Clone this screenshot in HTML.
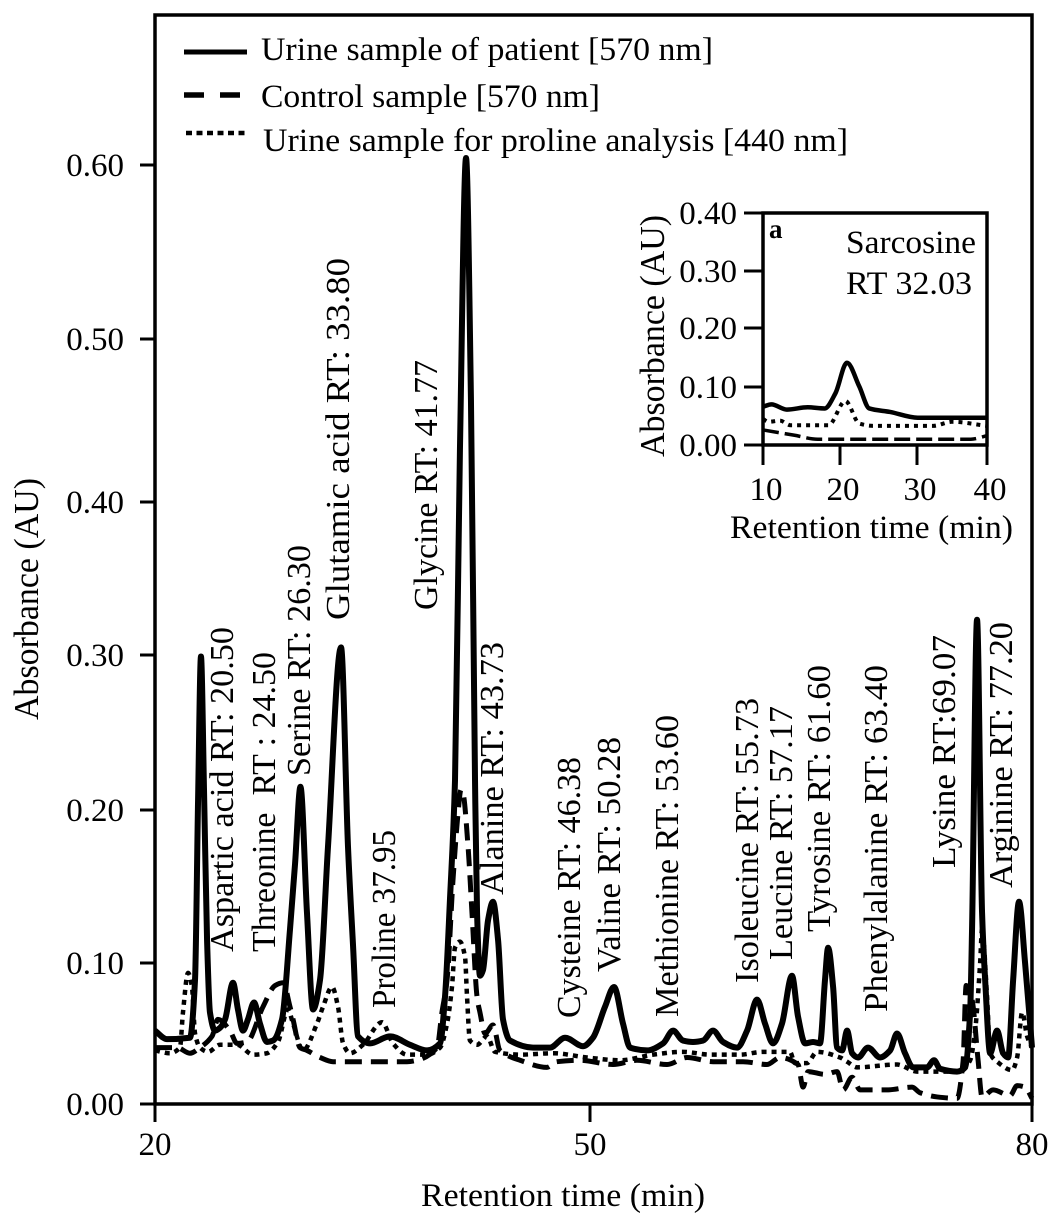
<!DOCTYPE html>
<html lang="en">
<head>
<meta charset="utf-8">
<title>Amino acid chromatogram</title>
<style>
html,body{margin:0;padding:0;background:#fff}
svg{display:block}
text{font-family:"Liberation Serif","Times New Roman",serif;fill:#000;font-size:33px}
.big{font-size:33px}
.peak text{font-size:34px}
.ytitle{font-size:35px}
</style>
</head>
<body>
<svg id="chart" xmlns="http://www.w3.org/2000/svg" width="1063" height="1229" viewBox="0 0 1063 1229">
  <rect x="0" y="0" width="1063" height="1229" fill="#fff"/>
  <g id="main-axes"></g>
  <g id="main-series"></g>
  <g id="inset"></g>
  <text class="ytitle" transform="translate(38,720) rotate(-90)" textLength="242" lengthAdjust="spacingAndGlyphs">Absorbance (AU)</text>
  <text x="421" y="1206" textLength="284" lengthAdjust="spacingAndGlyphs">Retention time (min)</text>

  <g>
    <line x1="184" y1="52" x2="247" y2="52" stroke="#000" stroke-width="5"/>
    <text x="261" y="60" textLength="452" lengthAdjust="spacingAndGlyphs">Urine sample of patient [570 nm]</text>
    <line x1="184" y1="95" x2="241" y2="95" stroke="#000" stroke-width="5.5" stroke-dasharray="20 16"/>
    <text x="261" y="107" textLength="339" lengthAdjust="spacingAndGlyphs">Control sample [570 nm]</text>
    <line x1="186" y1="133" x2="249" y2="133" stroke="#000" stroke-width="4.5" stroke-dasharray="6 4.5"/>
    <text x="263" y="151" textLength="585" lengthAdjust="spacingAndGlyphs">Urine sample for proline analysis [440 nm]</text>
  </g>

  <g class="peak">
    <text transform="translate(233,952) rotate(-90)" textLength="325" lengthAdjust="spacingAndGlyphs">Aspartic acid RT: 20.50</text>
    <text transform="translate(275,952) rotate(-90)" textLength="300" lengthAdjust="spacingAndGlyphs" xml:space="preserve">Threonine  RT : 24.50</text>
    <text transform="translate(310,776) rotate(-90)" textLength="231" lengthAdjust="spacingAndGlyphs">Serine RT: 26.30</text>
    <text transform="translate(349,620) rotate(-90)" textLength="362" lengthAdjust="spacingAndGlyphs">Glutamic acid RT: 33.80</text>
    <text transform="translate(395,1008) rotate(-90)" textLength="178" lengthAdjust="spacingAndGlyphs">Proline 37.95</text>
    <text transform="translate(437,610) rotate(-90)" textLength="250" lengthAdjust="spacingAndGlyphs">Glycine RT: 41.77</text>
    <text transform="translate(503,895) rotate(-90)" textLength="253" lengthAdjust="spacingAndGlyphs">Alanine RT: 43.73</text>
    <text transform="translate(580,1018) rotate(-90)" textLength="261" lengthAdjust="spacingAndGlyphs">Cysteine RT: 46.38</text>
    <text transform="translate(620,972) rotate(-90)" textLength="235" lengthAdjust="spacingAndGlyphs">Valine RT: 50.28</text>
    <text transform="translate(678,1017) rotate(-90)" textLength="302" lengthAdjust="spacingAndGlyphs">Methionine RT: 53.60</text>
    <text transform="translate(758,983) rotate(-90)" textLength="285" lengthAdjust="spacingAndGlyphs">Isoleucine RT: 55.73</text>
    <text transform="translate(792,960) rotate(-90)" textLength="254" lengthAdjust="spacingAndGlyphs">Leucine RT: 57.17</text>
    <text transform="translate(830,932) rotate(-90)" textLength="267" lengthAdjust="spacingAndGlyphs">Tyrosine RT: 61.60</text>
    <text transform="translate(887,1012) rotate(-90)" textLength="347" lengthAdjust="spacingAndGlyphs">Phenylalanine RT: 63.40</text>
    <text transform="translate(955,868) rotate(-90)" textLength="233" lengthAdjust="spacingAndGlyphs">Lysine RT:69.07</text>
    <text transform="translate(1012,888) rotate(-90)" textLength="266" lengthAdjust="spacingAndGlyphs">Arginine RT: 77.20</text>
  </g>

  <g>
    <text x="769" y="238" style="font-weight:bold;font-size:27px">a</text>
    <text x="846" y="253" textLength="130" lengthAdjust="spacingAndGlyphs">Sarcosine</text>
    <text x="846" y="294" textLength="126" lengthAdjust="spacingAndGlyphs">RT 32.03</text>
    <text class="ytitle" transform="translate(664,457) rotate(-90)" textLength="242" lengthAdjust="spacingAndGlyphs">Absorbance (AU)</text>
    <text x="730" y="538" textLength="283" lengthAdjust="spacingAndGlyphs">Retention time (min)</text>
  </g>
</svg>

<script>
// ---------- main chart data ----------
var xTicks = [20, 50, 80];
var xTickLabels = ["20", "50", "80"];
var yTicks = [0, 0.1, 0.2, 0.3, 0.4, 0.5, 0.6];
var yTickLabels = ["0.00", "0.10", "0.20", "0.30", "0.40", "0.50", "0.60"];

var patientTimes = [20,20.83,22.41,22.76,22.97,23.17,23.38,23.59,23.79,24.14,24.48,24.83,25.38,25.72,26.07,26.41,26.83,27.24,27.72,28.14,28.76,29.31,29.66,30.03,30.48,30.9,31.38,31.93,32.83,33.31,33.66,34,34.83,36.21,37.59,38.76,39.66,40,40.34,40.69,41.03,41.45,41.79,42.07,42.21,42.41,42.62,42.97,43.31,43.66,44,44.48,46.07,47.24,48.28,49.52,50.2,51.02,51.63,52.24,52.72,53.87,54.96,55.64,56.31,56.99,57.67,58.35,59.03,59.98,60.66,61.34,61.88,62.42,63.03,63.71,64.12,64.6,65.14,65.61,65.95,66.16,66.5,66.77,67.11,67.45,67.79,68.19,68.87,69.69,70.37,70.84,71.38,71.93,72.88,73.35,73.76,74.91,75.46,75.8,75.93,76.27,76.61,76.82,77.16,77.63,78.04,78.38,78.72,79.12,79.53,79.87,80];
var patientValues = [0.052,0.046,0.047,0.088,0.206,0.299,0.213,0.115,0.065,0.052,0.054,0.06,0.086,0.067,0.052,0.06,0.072,0.057,0.044,0.045,0.06,0.122,0.165,0.215,0.133,0.067,0.088,0.176,0.305,0.176,0.111,0.048,0.043,0.048,0.042,0.038,0.043,0.076,0.141,0.219,0.432,0.604,0.463,0.219,0.133,0.091,0.095,0.128,0.14,0.115,0.06,0.045,0.04,0.04,0.047,0.041,0.047,0.069,0.083,0.057,0.04,0.038,0.043,0.052,0.045,0.044,0.045,0.052,0.044,0.04,0.052,0.074,0.057,0.043,0.057,0.091,0.062,0.043,0.044,0.043,0.088,0.11,0.083,0.04,0.038,0.052,0.036,0.033,0.04,0.033,0.038,0.05,0.036,0.026,0.026,0.031,0.025,0.023,0.026,0.065,0.122,0.323,0.133,0.088,0.036,0.052,0.036,0.033,0.088,0.14,0.1,0.057,0.04];

var controlTimes = [20,21.52,22.41,23.1,23.93,24.34,25.17,25.66,26.34,27.45,28.28,28.83,29.31,29.52,30,30.48,31.38,32.28,33.45,35.72,37.38,38.07,39.45,39.79,40.14,40.55,40.9,41.1,41.24,41.59,41.86,42.21,42.41,42.76,43.31,43.79,45.17,47.03,47.72,49.31,51.56,53.19,55.23,56.59,58.35,60.39,62.02,62.9,64.12,64.46,64.8,65.95,66.77,67.18,67.79,68.33,70.17,71.86,72.4,73.56,74.91,75.32,75.53,75.93,76.34,76.61,77.36,78.51,78.99,79.53,80];
var controlValues = [0.04,0.04,0.036,0.04,0.048,0.06,0.052,0.043,0.044,0.069,0.084,0.086,0.069,0.06,0.04,0.038,0.033,0.03,0.03,0.03,0.03,0.031,0.04,0.065,0.088,0.154,0.198,0.213,0.211,0.176,0.133,0.076,0.065,0.05,0.056,0.038,0.031,0.026,0.03,0.031,0.028,0.031,0.028,0.033,0.03,0.03,0.028,0.033,0.028,0.012,0.023,0.021,0.023,0.01,0.019,0.01,0.01,0.012,0.008,0.005,0.004,0.03,0.084,0.074,0.031,0.005,0.01,0.006,0.013,0.012,0.004];

var prolineTimes = [20,21.03,21.72,21.93,22.28,22.55,22.76,23.1,23.66,24.48,25.66,26.76,27.72,28.48,29.17,29.52,30.21,31.17,31.59,32.21,32.62,32.97,33.45,34.34,35.66,36.41,37.38,38.76,39.66,40.14,40.48,40.69,41.03,41.38,41.52,41.72,42.21,42.9,43.45,45.17,47.45,49.79,52.04,54.28,56.31,58.15,60.18,61.74,63.57,63.91,64.73,65.41,66.97,67.45,68.13,70.84,72.2,75.12,75.8,76.14,76.48,76.61,76.95,77.16,77.63,78.65,78.99,79.33,79.67,80];
var prolineValues = [0.038,0.036,0.04,0.065,0.093,0.083,0.05,0.04,0.037,0.042,0.042,0.035,0.036,0.044,0.067,0.057,0.038,0.057,0.069,0.083,0.069,0.043,0.036,0.042,0.058,0.043,0.035,0.035,0.04,0.057,0.083,0.11,0.114,0.104,0.076,0.045,0.042,0.048,0.037,0.035,0.036,0.033,0.031,0.035,0.037,0.035,0.035,0.037,0.037,0.029,0.029,0.037,0.033,0.03,0.026,0.028,0.023,0.023,0.031,0.052,0.1,0.122,0.076,0.036,0.03,0.024,0.033,0.065,0.048,0.04];

// ---------- inset chart data ----------
var insetXTicks = [10, 20, 30, 40];
var insetXTickLabels = ["10", "20", "30", "40"];
var insetYTicks = [0, 0.1, 0.2, 0.3, 0.4];
var insetYTickLabels = ["0.00", "0.10", "0.20", "0.30", "0.40"];

var insetPatientTimes = [10,11.1,13.1,15.8,18,19.4,20.9,22.5,23.8,26.5,30.1,40];
var insetPatientValues = [0.066,0.07,0.061,0.065,0.063,0.089,0.141,0.101,0.063,0.057,0.047,0.047];
var insetProlineTimes = [10,10.7,12.2,13.6,18.5,20.7,22.5,24.3,32.3,35,40];
var insetProlineValues = [0.045,0.04,0.042,0.034,0.034,0.076,0.037,0.033,0.033,0.04,0.033];
var insetControlTimes = [10,14,17.1,37.7,40];
var insetControlValues = [0.026,0.017,0.01,0.01,0.016];

// ---------- axis calibration (figure is slightly warped, so axes are piecewise) ----------
var NS = 'http://www.w3.org/2000/svg';
function piecewise(dom, rng) {
  return function (v) {
    var i = 0;
    while (i < dom.length - 2 && v > dom[i + 1]) i++;
    return rng[i] + (v - dom[i]) * (rng[i + 1] - rng[i]) / (dom[i + 1] - dom[i]);
  };
}
var xScale = piecewise([20, 50, 80], [155, 590, 1032]);
var yScale = piecewise([0, 0.1, 0.2, 0.3, 0.4, 0.5, 0.6], [1104, 963, 810, 655, 502, 339, 165]);
var insetX = piecewise([10, 20, 30, 40], [763, 840, 917, 987]);
var insetY = piecewise([0, 0.1, 0.2, 0.3, 0.4], [445, 387, 328, 271, 213]);

function mk(tag, attrs, parent) {
  var el = document.createElementNS(NS, tag);
  for (var k in attrs) el.setAttribute(k, attrs[k]);
  parent.appendChild(el);
  return el;
}

// monotone cubic path through the points: never overshoots a peak
function curve(ts, vs, sx, sy) {
  var n = ts.length, xs = [], ys = [], d = [], m = [], i;
  for (i = 0; i < n; i++) { xs.push(sx(ts[i])); ys.push(sy(vs[i])); }
  for (i = 0; i < n - 1; i++) d.push((ys[i + 1] - ys[i]) / (xs[i + 1] - xs[i]));
  m.push(d[0]);
  for (i = 1; i < n - 1; i++) {
    m.push(d[i - 1] * d[i] <= 0 ? 0 : 2 * d[i - 1] * d[i] / (d[i - 1] + d[i]));
  }
  m.push(d[n - 2]);
  var p = 'M' + xs[0].toFixed(2) + ' ' + ys[0].toFixed(2);
  for (i = 0; i < n - 1; i++) {
    var h = (xs[i + 1] - xs[i]) / 3;
    p += 'C' + (xs[i] + h).toFixed(2) + ' ' + (ys[i] + m[i] * h).toFixed(2) + ' ' +
         (xs[i + 1] - h).toFixed(2) + ' ' + (ys[i + 1] - m[i + 1] * h).toFixed(2) + ' ' +
         xs[i + 1].toFixed(2) + ' ' + ys[i + 1].toFixed(2);
  }
  return p;
}

// ---------- main axes ----------
var axes = document.getElementById('main-axes');
var frame = mk('rect', {x: 155, y: 15, width: 877, height: 1089, fill: 'none', stroke: '#000', 'stroke-width': 3.5}, axes);



yTicks.forEach(function (v, i) {
  var y = yScale(v);
  var tick = mk('line', {x1: 140, x2: 155, y1: y, y2: y, stroke: '#000', 'stroke-width': 3}, axes);
  
  
  var lab = mk('text', {x: 124, y: y + 11, 'text-anchor': 'end', 'class': 'big'}, axes);
  
  
  lab.textContent = yTickLabels[i];
});
xTicks.forEach(function (v, i) {
  var x = xScale(v);
  var tick = mk('line', {x1: x, x2: x, y1: 1104, y2: 1122, stroke: '#000', 'stroke-width': 3}, axes);
  
  
  var lab = mk('text', {x: x, y: 1155, 'text-anchor': 'middle', 'class': 'big'}, axes);
  
  
  lab.textContent = xTickLabels[i];
});

// ---------- main series ----------
var series = document.getElementById('main-series');
var lineProline = mk('path', {d: curve(prolineTimes, prolineValues, xScale, yScale), fill: 'none', stroke: '#000', 'stroke-width': 4.5, 'stroke-dasharray': '5 5'}, series);


var lineControl = mk('path', {d: curve(controlTimes, controlValues, xScale, yScale), fill: 'none', stroke: '#000', 'stroke-width': 5, 'stroke-dasharray': '17 9'}, series);


var linePatient = mk('path', {d: curve(patientTimes, patientValues, xScale, yScale), fill: 'none', stroke: '#000', 'stroke-width': 6, 'stroke-linejoin': 'round'}, series);



// ---------- inset ----------
var inset = document.getElementById('inset');
var insetFrame = mk('rect', {x: 763, y: 213, width: 224, height: 232, fill: '#fff', stroke: '#000', 'stroke-width': 3.5}, inset);


insetYTicks.forEach(function (v, i) {
  var y = insetY(v);
  var tick = mk('line', {x1: 744, x2: 763, y1: y, y2: y, stroke: '#000', 'stroke-width': 3}, inset);
  
  
  var lab = mk('text', {x: 737, y: y + 11, 'text-anchor': 'end', 'class': 'big'}, inset);
  
  
  lab.textContent = insetYTickLabels[i];
});
insetXTicks.forEach(function (v, i) {
  var x = insetX(v);
  var tick = mk('line', {x1: x, x2: x, y1: 445, y2: 465, stroke: '#000', 'stroke-width': 3}, inset);
  
  
  var lab = mk('text', {x: x + 3, y: 500, 'text-anchor': 'middle', 'class': 'big'}, inset);
  
  
  lab.textContent = insetXTickLabels[i];
});
var inP = mk('path', {d: curve(insetPatientTimes, insetPatientValues, insetX, insetY), fill: 'none', stroke: '#000', 'stroke-width': 4.5}, inset);


var inD = mk('path', {d: curve(insetProlineTimes, insetProlineValues, insetX, insetY), fill: 'none', stroke: '#000', 'stroke-width': 4, 'stroke-dasharray': '4 5'}, inset);


var inC = mk('path', {d: curve(insetControlTimes, insetControlValues, insetX, insetY), fill: 'none', stroke: '#000', 'stroke-width': 3.5, 'stroke-dasharray': '16 6'}, inset);


</script>
</body>
</html>
